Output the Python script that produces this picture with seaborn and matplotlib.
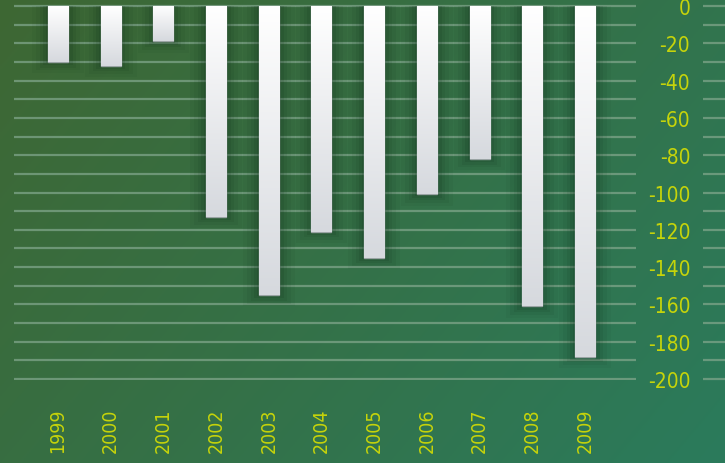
import numpy as np
import pandas as pd
import seaborn as sns
import matplotlib.colors as mcolors
from matplotlib import pyplot as plt
from matplotlib.patches import Rectangle

# values (negative bars, axis on the right)
years = ['1999', '2000', '2001', '2002', '2003', '2004', '2005', '2006', '2007', '2008', '2009']
values = [-30, -32, -19, -113, -155, -121, -135, -101, -82, -161, -188]
ytick_vals = [0, -20, -40, -60, -80, -100, -120, -140, -160, -180, -200]

label_col = '#c6d40a'
grid_col = '#7fa58a'

df = pd.DataFrame({'year': years, 'value': values})

sns.set_theme(style='white')
plt.rcParams['font.family'] = ['DejaVu Sans']
plt.rcParams['font.stretch'] = 'condensed'
plt.rcParams['axes.unicode_minus'] = False

fig = plt.figure(figsize=(7.25, 4.64), dpi=100)

# background gradient: olive green top-left -> teal green bottom-right
bg = fig.add_axes([0, 0, 1, 1], zorder=-10)
bg.set_axis_off()
gx, gy = np.meshgrid(np.linspace(0, 1, 300), np.linspace(0, 1, 200))
t = np.clip(0.65 * gx + 0.35 * gy, 0, 1)
c0 = np.array(mcolors.to_rgb('#3e6733'))
c1 = np.array(mcolors.to_rgb('#2b7b5c'))
img = c0[None, None, :] * (1 - t[..., None]) + c1[None, None, :] * t[..., None]
bg.imshow(img, aspect='auto', extent=[0, 1, 0, 1], origin='upper')
bg.set_xlim(0, 1)
bg.set_ylim(0, 1)

# main axes, pixel box x 14..636, y 0..381
ax = fig.add_axes([14 / 725, 83 / 464, 622 / 725, 381 / 464])
ax.patch.set_alpha(0)
for s in ax.spines.values():
    s.set_visible(False)

sns.barplot(data=df, x='year', y='value', color='white', width=0.38,
            saturation=1, ax=ax, zorder=3, errorbar=None)

ax.set_xlim(-0.835, 10.97)
ax.set_ylim(-200.5, 3.75)

# gridlines every 10
for yv in np.arange(0, -201, -10):
    ax.axhline(yv, color=grid_col, lw=1.6, alpha=0.75, zorder=1)
    ax.hlines(yv, 1.1075, 1.2, transform=ax.get_yaxis_transform(), color=grid_col,
              lw=1.6, alpha=0.75, clip_on=False, zorder=1)

# bar gradient + soft shadow
grad = np.linspace(0, 1, 100)[:, None]
bar_cmap = mcolors.LinearSegmentedColormap.from_list('bar', ['#ffffff', '#d6d9de'])
for p in ax.patches:
    x0, w = p.get_x(), p.get_width()
    h = p.get_height()
    for k, a in [(0.6, 0.05), (0.45, 0.07), (0.3, 0.09), (0.18, 0.12), (0.07, 0.15)]:
        sh = Rectangle((x0 - k * 0.5, h - k * 10), w + k, -h + k * 10, color='#10301a',
                       alpha=a, lw=0, zorder=2)
        ax.add_patch(sh)
    im = ax.imshow(grad, cmap=bar_cmap, aspect='auto', extent=[x0, x0 + w, h, 0], zorder=4)
    im.set_clip_path(p)
    p.set_edgecolor('#9aa4a4')
    p.set_linewidth(1.0)

ax.yaxis.tick_right()
ax.set_yticks(ytick_vals)
ax.set_yticklabels([str(v) for v in ytick_vals])
ax.tick_params(axis='y', length=0, pad=39, labelsize=15, labelcolor=label_col)
ax.tick_params(axis='x', length=0, pad=20, labelsize=14, labelcolor=label_col, rotation=90)
for lab in ax.get_yticklabels():
    lab.set_horizontalalignment('right')
ax.set_xlabel('')
ax.set_ylabel('')

fig.savefig('out.png', dpi=100)
